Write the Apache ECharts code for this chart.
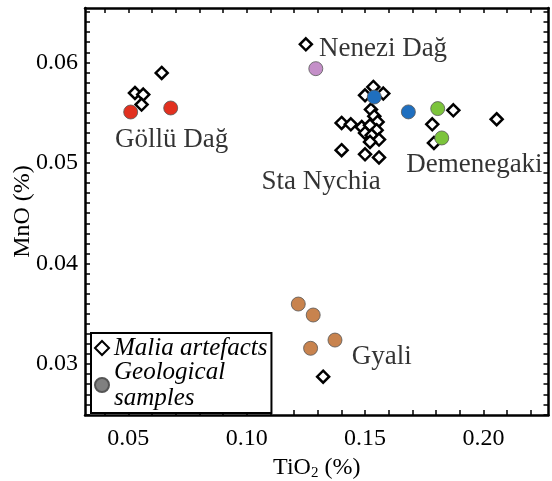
<!DOCTYPE html>
<html>
<head>
<meta charset="utf-8">
<script src="https://cdn.jsdelivr.net/npm/echarts@6/dist/echarts.min.js"></script>
<style>html,body{margin:0;padding:0;background:#fff}#c{width:552px;height:481px}</style>
</head>
<body>
<div id="c"></div>
<script>
// Malia artefacts (TiO2 %, MnO %)
const artefactTiO2 = [0.0641,0.0528,0.0563,0.0556, 0.1250,
  0.1535,0.1500,0.1577,0.1525,0.1401,0.1440,0.1486,0.1539,0.1553,0.1521,0.1549,0.1500,0.1528,0.1559,0.1521,0.1401,0.1500,0.1559,
  0.1873,0.1784,0.1791,0.2056, 0.1323];
const artefactMnO = [0.05894,0.05695,0.05679,0.05580, 0.06179,
  0.05755,0.05672,0.05689,0.05530,0.05397,0.05384,0.05357,0.05464,0.05407,0.05374,0.05325,0.05298,0.05275,0.05232,0.05209,0.05126,0.05086,0.05054,
  0.05523,0.05384,0.05199,0.05434, 0.02875];
// Geological samples
const geoTiO2 = [0.0510,0.0679, 0.1292, 0.1539,0.1683, 0.1807,0.1824, 0.1218,0.1281,0.1373,0.1270];
const geoMnO  = [0.05506,0.05546, 0.05937, 0.05655,0.05507, 0.05540,0.05248, 0.03597,0.03488,0.03239,0.03157];
const geoSite = ['Göllü Dağ','Göllü Dağ','Nenezi Dağ','Sta Nychia','Sta Nychia','Demenegaki','Demenegaki','Gyali','Gyali','Gyali','Gyali'];
const siteColors = {'Göllü Dağ':'#e2301f','Nenezi Dağ':'#c48fc8','Sta Nychia':'#1f6fbf','Demenegaki':'#7cc43c','Gyali':'#c8834e'};
// Site name labels (positions in data units)
const siteNames  = ['Nenezi Dağ','Göllü Dağ','Sta Nychia','Demenegaki','Gyali'];
const siteLabelX = [0.1576,0.0683,0.1314,0.1962,0.1571];
const siteLabelY = [0.06135,0.05225,0.04810,0.04977,0.03075];
// Axis ticks
const xLabelValues = [0.05,0.10,0.15,0.20];
const xTickValues = [0.04,0.05,0.06,0.07,0.08,0.09,0.10,0.11,0.12,0.13,0.14,0.15,0.16,0.17,0.18,0.19,0.20,0.21,0.22];
const yLabelValues = [0.03,0.04,0.05,0.06];
const yTickValues = [];
for (let i = 25; i <= 65; i++) yTickValues.push(+(i/1000).toFixed(3));
const xMin = 0.0317, xMax = 0.2275, yMin = 0.02494, yMax = 0.0654;

const FONT = '"Liberation Serif", "Times New Roman", serif';
const axisLineStyle = {color:'#000', width:2.5};
function xAx(pos, showLabel){
  return {type:'value', position:pos, min:xMin, max:xMax,
    axisLine:{show:true, onZero:false, lineStyle:axisLineStyle},
    axisTick:{show:true, inside:true, length:5, customValues:xTickValues, lineStyle:{color:'#000',width:1.5}},
    axisLabel:{show:showLabel, customValues:xLabelValues, color:'#000', fontFamily:FONT, fontSize:24, margin:12,
      formatter:v=>v.toFixed(2)},
    splitLine:{show:false},
    name: showLabel ? '{a|TiO}{s|2}{a| (%)}' : '', nameLocation:'middle', nameGap:39, nameMoveOverlap:false,
    nameTextStyle:{rich:{a:{fontFamily:FONT,fontSize:24,color:'#000'}, s:{fontFamily:FONT,fontSize:15,color:'#000',padding:[12,0,0,0]}}}
  };
}
function yAx(pos, showLabel){
  return {type:'value', position:pos, min:yMin, max:yMax,
    axisLine:{show:true, onZero:false, lineStyle:axisLineStyle},
    axisTick:{show:true, inside:true, length:5, customValues:yTickValues, lineStyle:{color:'#000',width:1.5}},
    axisLabel:{show:showLabel, customValues:yLabelValues, color:'#000', fontFamily:FONT, fontSize:24, margin:7,
      formatter:v=>v.toFixed(2)},
    splitLine:{show:false},
    name: showLabel ? 'MnO (%)' : '', nameLocation:'middle', nameGap:50, nameRotate:90, nameMoveOverlap:false,
    nameTextStyle:{fontFamily:FONT,fontSize:24,color:'#000'}
  };
}

const chart = echarts.init(document.getElementById('c'), null, {renderer:'canvas'});
chart.setOption({
  animation:false,
  backgroundColor:'#fff',
  grid:{left:85, right:3.5, top:8, bottom:66, containLabel:false, outerBoundsMode:'none'},
  xAxis:[xAx('bottom',true), xAx('top',false)],
  yAxis:[yAx('left',true), yAx('right',false)],
  legend:{
    data:['Malia artefacts','Geological samples'],
    selectedMode:false, orient:'vertical', left:91, top:333,
    backgroundColor:'#fff', borderColor:'#000', borderWidth:2, borderRadius:0,
    padding:[2,4,2,3], itemGap:-2, itemWidth:14, itemHeight:14,
    formatter: n => n === 'Geological samples' ? 'Geological\nsamples' : n,
    textStyle:{fontFamily:FONT, fontSize:25, fontStyle:'italic', color:'#000', lineHeight:26}
  },
  series:[
    {name:'Malia artefacts', type:'scatter', symbol:'diamond', symbolSize:12, z:3,
      itemStyle:{color:'#fff', borderColor:'#000', borderWidth:2.5, opacity:1},
      data: artefactTiO2.map((x,i)=>[x, artefactMnO[i]])},
    {name:'Geological samples', type:'scatter', symbol:'circle', symbolSize:14, z:4,
      itemStyle:{color:'#808080', borderColor:'#555', borderWidth:0.8, opacity:1},
      data: geoTiO2.map((x,i)=>({value:[x, geoMnO[i]], itemStyle:{color:siteColors[geoSite[i]]}}))},
    {name:'labels', type:'scatter', symbolSize:1, silent:true, z:5,
      itemStyle:{color:'rgba(0,0,0,0)'},
      label:{show:true, position:'inside', formatter:p=>p.name, color:'#000', fontFamily:FONT, fontSize:27},
      data: siteNames.map((n,i)=>({name:n, value:[siteLabelX[i], siteLabelY[i]]}))}
  ]
});
</script>
</body>
</html>
